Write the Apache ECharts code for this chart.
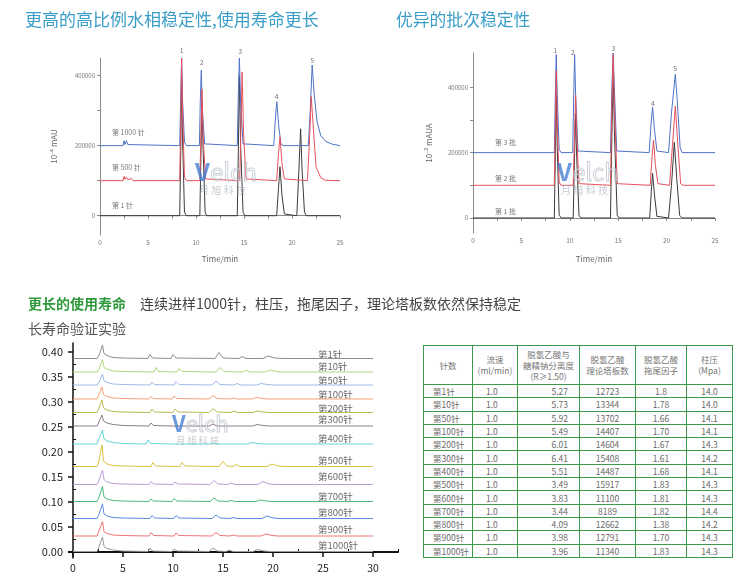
<!DOCTYPE html>
<html><head><meta charset="utf-8">
<script src="https://cdn.jsdelivr.net/npm/echarts@6/dist/echarts.min.js"></script>
<style>
html,body{margin:0;padding:0;background:#fff;width:750px;height:578px;overflow:hidden;}
#chart{position:absolute;left:0;top:0;width:750px;height:578px;}
#tbl{position:absolute;left:423px;top:345px;width:309px;border-collapse:collapse;table-layout:fixed;font-family:"Noto Sans CJK SC","Noto Sans",sans-serif;font-size:8.5px;color:#6a6a6a;background:#fff;}
#tbl td,#tbl th{border:1px solid #3d9a4c;padding:0;font-weight:normal;overflow:hidden;white-space:nowrap;}
#tbl th{height:38px;line-height:11px;text-align:center;white-space:normal;color:#777;}
#tbl td{height:12.3px;line-height:12px;}
</style></head>
<body>
<div id="chart"></div>
<table id="tbl"></table>
<script>
// ---------- Top-left chart: 高比例水相稳定性 ----------
const tlBlack = [[0,0],[2.7,0],[2.9,-5000],[3.1,0],[8.3,0],[8.42,200000],[8.5,400000],[8.6,220000],[8.8,10000],[9.0,0],[10.4,0],[10.52,180000],[10.62,330000],[10.75,180000],[10.95,10000],[11.1,0],[14.3,0],[14.42,200000],[14.52,400000],[14.65,200000],[14.9,10000],[15.1,0],[18.4,0],[18.6,80000],[18.75,140000],[18.95,60000],[19.2,5000],[19.4,0],[20.5,0],[20.7,120000],[20.9,248000],[21.05,130000],[21.3,10000],[21.5,0],[25,0]];
const tlRed = [[0,100000],[2.4,100000],[2.5,112000],[2.6,104000],[2.75,110000],[2.9,103000],[3.3,106000],[3.45,100000],[8.3,100000],[8.42,280000],[8.5,450000],[8.6,300000],[8.8,110000],[9.0,100000],[10.4,100000],[10.52,240000],[10.62,360000],[10.75,220000],[11.0,105000],[11.2,100000],[14.55,100000],[14.7,270000],[14.8,410000],[14.95,240000],[15.2,105000],[15.4,100000],[18.4,100000],[18.6,180000],[18.75,225000],[18.95,150000],[19.2,105000],[19.4,100000],[21.6,100000],[21.8,200000],[22.0,340000],[22.2,260000],[22.5,140000],[23.0,108000],[23.5,101000],[25,100000]];
const tlBlue = [[0,200000],[2.4,200000],[2.5,214000],[2.6,203000],[2.75,214000],[2.9,203000],[3.05,200000],[8.3,200000],[8.42,350000],[8.5,450000],[8.6,330000],[8.8,210000],[9.0,200000],[10.35,200000],[10.45,330000],[10.55,415000],[10.67,300000],[10.9,205000],[11.1,200000],[14.3,200000],[14.42,360000],[14.52,450000],[14.65,320000],[14.9,205000],[15.1,200000],[18.1,200000],[18.3,290000],[18.42,325000],[18.6,260000],[18.85,205000],[19.1,200000],[21.7,200000],[21.9,300000],[22.1,430000],[22.3,350000],[22.6,270000],[23.0,228000],[23.5,212000],[24.2,204000],[25,200000]];
const tlPeakLabels = [[8.5,473000,'1'],[10.6,437000,'2'],[14.6,468000,'3'],[18.4,342000,'4'],[22.1,444000,'5']];
const tlTraceLabels = [[1.25,237000,'第 1000 针'],[1.25,137000,'第 500 针'],[1.25,29000,'第 1 针']];
const tlYLabels = [0,200000,400000];
const tlYTicks = [0,100000,200000,300000,400000];
const topXLabels = [0,5,10,15,20,25];
const topXTicks = [0,2.5,5,7.5,10,12.5,15,17.5,20,22.5,25];

// ---------- Top-right chart: 批次稳定性 ----------
const trBlack = [[0,0],[2.8,0],[2.9,-4000],[3.0,0],[8.4,0],[8.52,220000],[8.6,380000],[8.7,220000],[8.9,10000],[9.1,0],[10.35,0],[10.5,200000],[10.6,320000],[10.72,180000],[10.95,8000],[11.15,0],[14.2,0],[14.35,250000],[14.48,450000],[14.62,250000],[14.9,8000],[15.1,0],[18.25,0],[18.42,80000],[18.55,137000],[18.75,70000],[19.0,5000],[19.2,0],[20.2,0],[20.5,100000],[20.8,232000],[21.05,120000],[21.35,8000],[21.6,0],[25,0]];
const trRed = [[0,100000],[2.8,100000],[2.9,96000],[3.0,100000],[8.4,100000],[8.52,320000],[8.6,450000],[8.7,300000],[8.9,110000],[9.1,100000],[10.35,100000],[10.5,270000],[10.6,375000],[10.72,250000],[10.95,105000],[11.15,100000],[14.2,100000],[14.35,350000],[14.48,500000],[14.62,330000],[14.9,105000],[15.1,100000],[18.3,100000],[18.5,190000],[18.65,238000],[18.85,160000],[19.1,105000],[19.3,100000],[20.3,100000],[20.6,220000],[20.9,342000],[21.15,230000],[21.45,105000],[21.7,100000],[25,100000]];
const trBlue = [[0,200000],[2.8,200000],[2.9,196000],[3.0,200000],[8.4,200000],[8.52,400000],[8.6,500000],[8.7,380000],[8.9,210000],[9.1,200000],[10.3,200000],[10.42,400000],[10.5,500000],[10.6,380000],[10.85,205000],[11.05,200000],[14.2,200000],[14.35,400000],[14.48,505000],[14.6,400000],[14.85,205000],[15.05,200000],[18.2,200000],[18.4,290000],[18.55,340000],[18.75,270000],[19.0,205000],[19.2,200000],[20.2,200000],[20.5,320000],[20.9,440000],[21.1,360000],[21.4,215000],[21.6,200000],[25,200000]];
const trPeakLabels = [[8.5,514000,'1'],[10.3,508000,'2'],[14.5,520000,'3'],[18.6,352000,'4'],[20.9,459000,'5']];
const trTraceLabels = [[2.27,230000,'第 3 批'],[2.27,122000,'第 2 批'],[2.27,21000,'第 1 批']];

// ---------- Bottom chart: 长寿命验证实验 ----------
const lt1 = [[0,.387],[2.4,.387],[2.6,.394],[2.75,.391],[2.95,.414],[3.1,.397],[3.4,.393],[4,.389],[5,.388],[7.5,.387],[7.7,.395],[7.95,.388],[9.8,.387],[10.0,.395],[10.3,.388],[14.2,.387],[14.6,.399],[15.0,.388],[16.6,.387],[16.9,.391],[17.3,.387],[19.0,.387],[19.5,.392],[20.2,.388],[21,.387],[30,.387]];
const lt10 = [[0,.36],[2.4,.36],[2.6,.366],[2.75,.364],[2.95,.385],[3.1,.369],[3.4,.366],[4,.362],[5,.361],[8.1,.36],[8.3,.369],[8.55,.361],[10.4,.36],[10.6,.367],[10.9,.361],[14.3,.36],[14.7,.369],[15.1,.361],[17.0,.36],[17.3,.364],[17.7,.36],[19.2,.36],[19.7,.364],[20.3,.361],[21,.36],[30,.36]];
const lt50 = [[0,.334],[2.4,.334],[2.6,.340],[2.75,.338],[2.95,.356],[3.1,.342],[3.4,.339],[4,.336],[5,.335],[7.7,.334],[7.9,.340],[8.15,.335],[10.1,.334],[10.3,.341],[10.6,.335],[13.9,.334],[14.3,.342],[14.7,.335],[16.1,.334],[16.4,.337],[16.8,.334],[18.4,.334],[18.8,.337],[19.4,.335],[20,.334],[30,.334]];
const lt100 = [[0,.306],[2.4,.306],[2.55,.313],[2.7,.310],[2.9,.330],[3.05,.315],[3.4,.311],[4,.308],[5,.307],[7.6,.306],[7.8,.311],[8.05,.307],[9.9,.306],[10.1,.312],[10.4,.307],[13.6,.306],[14.0,.313],[14.4,.307],[15.7,.306],[16.0,.308],[16.4,.306],[17.9,.306],[18.3,.309],[18.9,.307],[19.5,.306],[30,.306]];
const lt200 = [[0,.279],[2.4,.279],[2.55,.286],[2.7,.283],[2.9,.304],[3.05,.288],[3.4,.284],[4,.281],[5,.28],[7.7,.279],[7.9,.286],[8.15,.28],[10.0,.279],[10.2,.286],[10.5,.28],[13.6,.279],[14.0,.287],[14.4,.28],[15.8,.279],[16.1,.282],[16.5,.279],[18.0,.279],[18.4,.282],[19.0,.28],[19.6,.279],[30,.279]];
const lt300 = [[0,.252],[2.4,.252],[2.55,.258],[2.7,.256],[2.9,.274],[3.05,.262],[3.4,.258],[4,.255],[5,.253],[7.6,.252],[7.8,.258],[8.05,.253],[9.9,.252],[10.1,.256],[10.4,.252],[13.6,.252],[14.0,.256],[14.4,.252],[18.0,.252],[18.4,.255],[19.0,.253],[19.6,.252],[30,.252]];
const lt400 = [[0,.216],[2.4,.216],[2.55,.224],[2.7,.221],[2.95,.244],[3.1,.226],[3.4,.222],[4,.219],[5,.217],[7.3,.216],[7.5,.224],[7.75,.217],[9.8,.216],[10.0,.219],[10.3,.216],[13.7,.216],[14.0,.218],[14.4,.216],[17.5,.216],[17.9,.219],[18.5,.217],[19.2,.216],[30,.216]];
const lt500 = [[0,.171],[2.4,.171],[2.55,.178],[2.7,.176],[2.9,.214],[3.05,.182],[3.4,.176],[4,.173],[5,.172],[7.8,.171],[8.0,.179],[8.25,.172],[10.7,.171],[10.9,.179],[11.2,.172],[14.6,.171],[15.0,.181],[15.4,.172],[16.0,.171],[16.3,.175],[16.7,.171],[19.4,.171],[19.9,.176],[20.5,.172],[21.1,.171],[30,.171]];
const lt600 = [[0,.135],[2.4,.135],[2.55,.141],[2.7,.139],[2.95,.164],[3.1,.145],[3.4,.140],[4,.137],[5,.136],[7.6,.135],[7.8,.141],[8.05,.136],[10.0,.135],[10.2,.140],[10.5,.136],[13.7,.135],[14.1,.143],[14.5,.136],[15.5,.135],[15.8,.138],[16.2,.135],[18.5,.135],[19.0,.141],[19.6,.136],[20.2,.135],[30,.135]];
const lt700 = [[0,.101],[2.4,.101],[2.55,.107],[2.7,.105],[2.95,.131],[3.1,.110],[3.4,.106],[4,.103],[5,.102],[7.6,.101],[7.8,.106],[8.05,.102],[9.9,.101],[10.1,.107],[10.4,.102],[13.7,.101],[14.1,.108],[14.5,.102],[15.5,.101],[15.8,.103],[16.2,.101],[18.3,.101],[18.7,.104],[19.3,.102],[19.9,.101],[30,.101]];
const lt800 = [[0,.067],[2.4,.067],[2.55,.073],[2.7,.071],[2.95,.096],[3.1,.076],[3.4,.072],[4,.069],[5,.068],[7.7,.067],[7.9,.073],[8.15,.068],[10.1,.067],[10.3,.073],[10.6,.068],[13.9,.067],[14.3,.074],[14.7,.068],[15.7,.067],[16.0,.069],[16.4,.067],[18.9,.067],[19.4,.072],[20.0,.068],[20.6,.067],[30,.067]];
const lt900 = [[0,.032],[2.4,.032],[2.55,.040],[2.7,.037],[2.95,.061],[3.1,.041],[3.4,.037],[4,.034],[5,.033],[7.6,.032],[7.8,.039],[8.05,.033],[10.1,.032],[10.3,.038],[10.6,.033],[13.9,.032],[14.3,.039],[14.7,.033],[15.7,.032],[16.0,.034],[16.4,.032],[18.8,.032],[19.3,.036],[19.9,.033],[20.5,.032],[30,.032]];
const lt1000 = [[0,.001],[2.4,.001],[2.55,.008],[2.7,.006],[2.95,.030],[3.1,.011],[3.4,.007],[4,.004],[5,.002],[7.5,.001],[7.7,.008],[7.95,.002],[9.9,.001],[10.1,.006],[10.4,.002],[13.6,.001],[14.0,.008],[14.4,.002],[15.3,.001],[15.6,.004],[16.0,.001],[18.0,.001],[18.5,.005],[19.1,.002],[19.7,.001],[30,.001]];
const ltTraces = [lt1,lt10,lt50,lt100,lt200,lt300,lt400,lt500,lt600,lt700,lt800,lt900,lt1000];
const ltNames = ['第1针','第10针','第50针','第100针','第200针','第300针','第400针','第500针','第600针','第700针','第800针','第900针','第1000针'];
const ltColors = ['#8e8e8e','#b3d67c','#9dbde9','#f2a276','#b9bb55','#8a7d88','#62d6d8','#d9c244','#bb9fdb','#4db97c','#5b8be0','#f07474','#9a9a9a'];
const ltLabelY = [.396,.372,.344,.316,.288,.266,.228,.184,.152,.112,.080,.046,.014];
const ltLabelX = 24.5;
const btXLabels = [0,5,10,15,20,25,30];
const btXMinor = [2.5,7.5,12.5,17.5,22.5,27.5,32.5];
const btYLabels = [0,0.05,0.1,0.15,0.2,0.25,0.3,0.35,0.4];
const btYMinor = [0.025,0.075,0.125,0.175,0.225,0.275,0.325,0.375];

// ---------- Table ----------
const tblHeaders = ['针数','流速<br>(ml/min)','脱氢乙酸与<br>糖精钠分离度<br>(R≥1.50)','脱氢乙酸<br>理论塔板数','脱氢乙酸<br>拖尾因子','柱压<br>(Mpa)'];
const tblInjections = ['第1针','第10针','第50针','第100针','第200针','第300针','第400针','第500针','第600针','第700针','第800针','第900针','第1000针'];
const tblFlow = ['1.0','1.0','1.0','1.0','1.0','1.0','1.0','1.0','1.0','1.0','1.0','1.0','1.0'];
const tblResolution = ['5.27','5.73','5.92','5.49','6.01','6.41','5.51','3.49','3.83','3.44','4.09','3.98','3.96'];
const tblPlates = ['12723','13344','13702','14407','14604','15408','14487','15917','11100','8189','12662','12791','11340'];
const tblTailing = ['1.8','1.78','1.66','1.70','1.67','1.61','1.68','1.83','1.81','1.82','1.38','1.70','1.83'];
const tblPressure = ['14.0','14.0','14.1','14.1','14.3','14.2','14.1','14.3','14.3','14.4','14.2','14.3','14.3'];
const tblColWidths = [49,45,62,56,51,46];
const tblAlign = [['left','9px'],['left','13px'],['right','11px'],['center','0'],['center','0'],['center','0']];

(function buildTable(){
  const t = document.getElementById('tbl');
  let h = '<colgroup>' + tblColWidths.map(w=>'<col style="width:'+w+'px">').join('') + '</colgroup>';
  h += '<tr>' + tblHeaders.map(x=>'<th>'+x+'</th>').join('') + '</tr>';
  const cols = [tblInjections,tblFlow,tblResolution,tblPlates,tblTailing,tblPressure];
  for (let r=0;r<tblInjections.length;r++){
    h += '<tr>' + cols.map((c,i)=>{
      const a = tblAlign[i];
      const pad = a[0]==='left' ? 'padding-left:'+a[1] : (a[0]==='right' ? 'padding-right:'+a[1] : '');
      return '<td style="text-align:'+a[0]+';'+pad+'">'+c[r]+'</td>';
    }).join('') + '</tr>';
  }
  t.innerHTML = h;
})();

const FONT = '"Noto Sans CJK SC","Noto Sans",sans-serif';
const chart = echarts.init(document.getElementById('chart'), null, {renderer:'canvas'});

function topX(gi, nameGap){
  return {gridIndex:gi,type:'value',min:0,max:25,
    axisLine:{lineStyle:{color:'#8a8a8a',width:1}},
    axisTick:{customValues:topXTicks,length:3,lineStyle:{color:'#8a8a8a'}},
    axisLabel:{customValues:topXLabels,formatter:v=>String(v),fontSize:6.5,color:'#777',margin:4,fontFamily:FONT},
    splitLine:{show:false},
    name:'Time/min',nameLocation:'middle',nameGap:nameGap,nameTextStyle:{fontSize:8,color:'#666',fontFamily:FONT}};
}
function topY(gi,min,max,name,nameGap){
  return {gridIndex:gi,type:'value',min:min,max:max,
    axisLine:{show:true,lineStyle:{color:'#8a8a8a',width:1}},
    axisTick:{show:true,customValues:tlYTicks,length:3,lineStyle:{color:'#8a8a8a'}},
    axisLabel:{customValues:tlYLabels,formatter:v=>String(v),fontSize:6,color:'#777',margin:5,fontFamily:FONT},
    splitLine:{show:false},
    name:name,nameLocation:'middle',nameRotate:90,nameGap:nameGap,nameTextStyle:{fontSize:8,color:'#666',fontFamily:FONT}};
}
function line(xi,yi,data,color,w){
  return {type:'line',xAxisIndex:xi,yAxisIndex:yi,data:data,showSymbol:false,symbol:'none',
    lineStyle:{color:color,width:w||1},silent:true,animation:false};
}
function labels(xi,yi,data,size,color,pos){
  return {type:'scatter',xAxisIndex:xi,yAxisIndex:yi,data:data,symbolSize:0,clip:false,silent:true,animation:false,
    label:{show:true,position:pos,distance:0,formatter:p=>p.value[2],fontSize:size,color:color,fontFamily:FONT}};
}

const series = [
  line(0,0,tlBlack,'#3c3c3c'), line(0,0,tlBlue,'#4e72c6'), line(0,0,tlRed,'#e6505c'),
  labels(0,0,tlPeakLabels,7,'#555','inside'), labels(0,0,tlTraceLabels,7,'#555','right'),
  line(1,1,trBlack,'#3c3c3c'), line(1,1,trBlue,'#4e72c6'), line(1,1,trRed,'#e6505c'),
  labels(1,1,trPeakLabels,7,'#555','inside'), labels(1,1,trTraceLabels,7,'#555','right')
];
ltTraces.forEach((d,i)=>series.push(line(2,2,d,ltColors[i],1)));
series.push(labels(2,2,ltNames.map((n,i)=>[ltLabelX,ltLabelY[i],n]),9.5,'#444','right'));

const wm = (x,y,s)=>[
  {type:'text',x:x,y:y,style:{text:'V',font:'bold '+s+'px '+FONT,fill:'rgba(60,120,210,0.75)',textVerticalAlign:'middle'},z:50},
  {type:'text',x:x+s*0.62,y:y,style:{text:'elch',font:s+'px '+FONT,fill:'rgba(255,255,255,0.3)',stroke:'rgba(150,160,175,0.6)',lineWidth:1,textVerticalAlign:'middle'},z:50},
  {type:'text',x:x+4,y:y+s*0.75,style:{text:'月 旭 科 技',font:(s*0.42)+'px '+FONT,fill:'rgba(150,160,175,0.55)',textVerticalAlign:'middle'},z:50}
];

chart.setOption({
  backgroundColor:'#fff',
  animation:false,
  grid:[
    {left:100,top:58,width:240,height:177},
    {left:473,top:53,width:242,height:180},
    {left:69,top:343,width:329,height:215}
  ],
  xAxis:[
    topX(0,20), topX(1,22),
    {gridIndex:2,type:'value',min:-0.4,max:32.5,
      axisLine:{lineStyle:{color:'#111',width:2}},
      axisTick:{customValues:btXLabels,length:5,lineStyle:{color:'#111',width:1.5}},
      axisLabel:{customValues:btXLabels,formatter:v=>String(v),fontSize:10.5,color:'#222',margin:5,fontFamily:FONT},
      splitLine:{show:false}},
    {gridIndex:2,type:'value',min:-0.4,max:32.5,
      axisLine:{show:false},
      axisTick:{customValues:btXMinor,length:3,lineStyle:{color:'#111',width:1}},
      axisLabel:{show:false},splitLine:{show:false}}
  ],
  yAxis:[
    topY(0,-55000,450000,'10⁻⁴ mAU',42),
    topY(1,-46000,505000,'10⁻³ mAUA',40),
    {gridIndex:2,type:'value',min:-0.012,max:0.418,
      axisLine:{show:true,lineStyle:{color:'#111',width:1.5}},
      axisTick:{show:true,customValues:btYLabels,length:5,lineStyle:{color:'#111',width:1.5}},
      axisLabel:{customValues:btYLabels,formatter:v=>v.toFixed(2),fontSize:11,color:'#222',margin:6,fontFamily:FONT},
      splitLine:{show:false}},
    {gridIndex:2,type:'value',min:-0.012,max:0.418,
      axisLine:{show:false},
      axisTick:{show:true,customValues:btYMinor,length:3,lineStyle:{color:'#111',width:1}},
      axisLabel:{show:false},splitLine:{show:false}}
  ],
  series:series,
  graphic:[
    {type:'text',x:25,y:20,style:{text:'更高的高比例水相稳定性,使用寿命更长',font:'17px '+FONT,fill:'#3a9ec8',textVerticalAlign:'middle'}},
    {type:'text',x:396,y:20,style:{text:'优异的批次稳定性',font:'16.8px '+FONT,fill:'#3a9ec8',textVerticalAlign:'middle'}},
    {type:'text',x:28,y:304,style:{text:'更长的使用寿命',font:'bold 14px '+FONT,fill:'#2f9a3c',textVerticalAlign:'middle'}},
    {type:'text',x:140,y:304,style:{text:'连续进样1000针，柱压，拖尾因子，理论塔板数依然保持稳定',font:'14px '+FONT,fill:'#444',textVerticalAlign:'middle'}},
    {type:'text',x:28,y:329,style:{text:'长寿命验证实验',font:'14px '+FONT,fill:'#555',textVerticalAlign:'middle'}}
  ].concat(wm(195,172,24), wm(557,172,24), wm(172,424,22))
});
</script>
</body></html>
